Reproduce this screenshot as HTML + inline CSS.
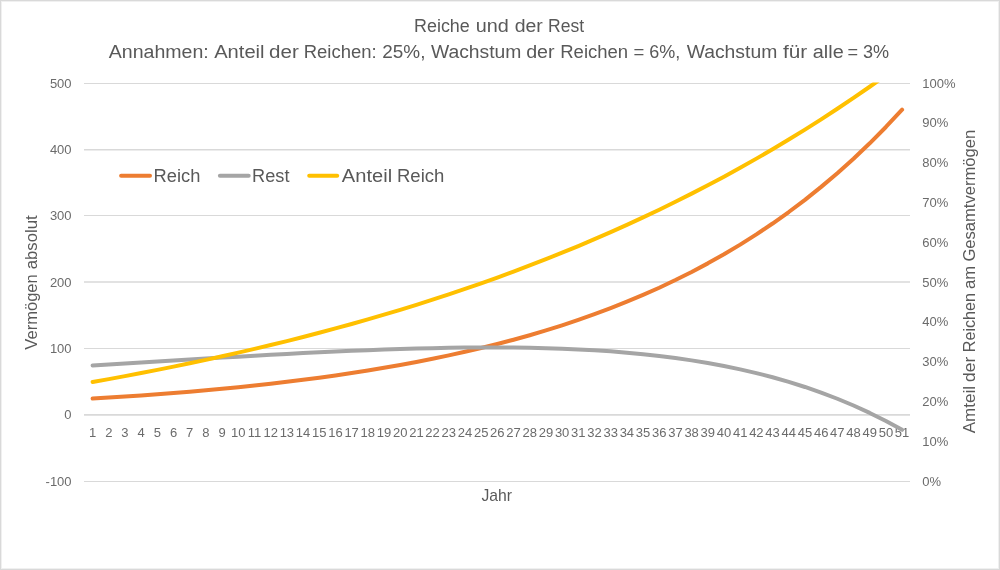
<!DOCTYPE html>
<html><head><meta charset="utf-8"><style>
html,body{margin:0;padding:0;background:#fff;}
body{width:1000px;height:570px;overflow:hidden;}
svg{display:block;will-change:transform;}
text{font-family:"Liberation Sans", sans-serif;fill:#595959;}
.ax text{fill:#6b6b6b;}
</style></head><body>
<svg width="1000" height="570" viewBox="0 0 1000 570">
<rect x="0" y="0" width="1000" height="570" fill="#fff"/>
<rect x="0.5" y="0.5" width="999" height="569" fill="none" stroke="#d9d9d9" stroke-width="1"/>
<rect x="1.5" y="1.5" width="997" height="567" fill="none" stroke="#f0f0f0" stroke-width="1"/>
<defs><clipPath id="pa"><rect x="80.0" y="82.5" width="834.0" height="420"/></clipPath></defs>
<line x1="84.0" y1="83.50" x2="910.0" y2="83.50" stroke="#d9d9d9" stroke-width="1.0"/><line x1="84.0" y1="149.75" x2="910.0" y2="149.75" stroke="#d9d9d9" stroke-width="1.6"/><line x1="84.0" y1="215.50" x2="910.0" y2="215.50" stroke="#d9d9d9" stroke-width="1.0"/><line x1="84.0" y1="281.95" x2="910.0" y2="281.95" stroke="#d9d9d9" stroke-width="1.6"/><line x1="84.0" y1="348.50" x2="910.0" y2="348.50" stroke="#d9d9d9" stroke-width="1.0"/><line x1="84.0" y1="414.95" x2="910.0" y2="414.95" stroke="#d9d9d9" stroke-width="1.8"/><line x1="84.0" y1="481.50" x2="910.0" y2="481.50" stroke="#d9d9d9" stroke-width="1.0"/>
<g font-size="13.0" class="ax"><text x="71.6" y="87.67" text-anchor="end">500</text><text x="71.6" y="154.01" text-anchor="end">400</text><text x="71.6" y="220.34" text-anchor="end">300</text><text x="71.6" y="286.67" text-anchor="end">200</text><text x="71.6" y="353.01" text-anchor="end">100</text><text x="71.6" y="419.34" text-anchor="end">0</text><text x="71.6" y="485.67" text-anchor="end">-100</text><text x="922.3" y="485.67">0%</text><text x="922.3" y="445.87">10%</text><text x="922.3" y="406.07">20%</text><text x="922.3" y="366.27">30%</text><text x="922.3" y="326.47">40%</text><text x="922.3" y="286.67">50%</text><text x="922.3" y="246.87">60%</text><text x="922.3" y="207.07">70%</text><text x="922.3" y="167.27">80%</text><text x="922.3" y="127.47">90%</text><text x="922.3" y="87.67">100%</text><text x="92.60" y="436.7" text-anchor="middle">1</text><text x="108.79" y="436.7" text-anchor="middle">2</text><text x="124.98" y="436.7" text-anchor="middle">3</text><text x="141.17" y="436.7" text-anchor="middle">4</text><text x="157.36" y="436.7" text-anchor="middle">5</text><text x="173.55" y="436.7" text-anchor="middle">6</text><text x="189.74" y="436.7" text-anchor="middle">7</text><text x="205.93" y="436.7" text-anchor="middle">8</text><text x="222.12" y="436.7" text-anchor="middle">9</text><text x="238.31" y="436.7" text-anchor="middle">10</text><text x="254.50" y="436.7" text-anchor="middle">11</text><text x="270.69" y="436.7" text-anchor="middle">12</text><text x="286.88" y="436.7" text-anchor="middle">13</text><text x="303.07" y="436.7" text-anchor="middle">14</text><text x="319.26" y="436.7" text-anchor="middle">15</text><text x="335.45" y="436.7" text-anchor="middle">16</text><text x="351.64" y="436.7" text-anchor="middle">17</text><text x="367.83" y="436.7" text-anchor="middle">18</text><text x="384.02" y="436.7" text-anchor="middle">19</text><text x="400.21" y="436.7" text-anchor="middle">20</text><text x="416.40" y="436.7" text-anchor="middle">21</text><text x="432.59" y="436.7" text-anchor="middle">22</text><text x="448.78" y="436.7" text-anchor="middle">23</text><text x="464.97" y="436.7" text-anchor="middle">24</text><text x="481.16" y="436.7" text-anchor="middle">25</text><text x="497.35" y="436.7" text-anchor="middle">26</text><text x="513.54" y="436.7" text-anchor="middle">27</text><text x="529.73" y="436.7" text-anchor="middle">28</text><text x="545.92" y="436.7" text-anchor="middle">29</text><text x="562.11" y="436.7" text-anchor="middle">30</text><text x="578.30" y="436.7" text-anchor="middle">31</text><text x="594.49" y="436.7" text-anchor="middle">32</text><text x="610.68" y="436.7" text-anchor="middle">33</text><text x="626.87" y="436.7" text-anchor="middle">34</text><text x="643.06" y="436.7" text-anchor="middle">35</text><text x="659.25" y="436.7" text-anchor="middle">36</text><text x="675.44" y="436.7" text-anchor="middle">37</text><text x="691.63" y="436.7" text-anchor="middle">38</text><text x="707.82" y="436.7" text-anchor="middle">39</text><text x="724.01" y="436.7" text-anchor="middle">40</text><text x="740.20" y="436.7" text-anchor="middle">41</text><text x="756.39" y="436.7" text-anchor="middle">42</text><text x="772.58" y="436.7" text-anchor="middle">43</text><text x="788.77" y="436.7" text-anchor="middle">44</text><text x="804.96" y="436.7" text-anchor="middle">45</text><text x="821.15" y="436.7" text-anchor="middle">46</text><text x="837.34" y="436.7" text-anchor="middle">47</text><text x="853.53" y="436.7" text-anchor="middle">48</text><text x="869.72" y="436.7" text-anchor="middle">49</text><text x="885.91" y="436.7" text-anchor="middle">50</text><text x="902.10" y="436.7" text-anchor="middle">51</text></g>
<g clip-path="url(#pa)" fill="none" stroke-width="4.0" stroke-linecap="round" stroke-linejoin="round">
<polyline points="92.60,398.58 108.79,397.59 124.98,396.53 141.17,395.42 157.36,394.23 173.55,392.97 189.74,391.64 205.93,390.23 222.12,388.74 238.31,387.15 254.50,385.47 270.69,383.69 286.88,381.80 303.07,379.80 319.26,377.67 335.45,375.42 351.64,373.04 367.83,370.51 384.02,367.83 400.21,364.99 416.40,361.98 432.59,358.79 448.78,355.41 464.97,351.82 481.16,348.02 497.35,343.99 513.54,339.72 529.73,335.20 545.92,330.40 562.11,325.31 578.30,319.92 594.49,314.21 610.68,308.15 626.87,301.73 643.06,294.92 659.25,287.71 675.44,280.06 691.63,271.95 707.82,263.36 724.01,254.25 740.20,244.60 756.39,234.36 772.58,223.51 788.77,212.01 804.96,199.82 821.15,186.90 837.34,173.21 853.53,158.69 869.72,143.30 885.91,126.99 902.10,109.70" stroke="#ed7d31"/>
<polyline points="92.60,365.42 108.79,364.42 124.98,363.43 141.17,362.43 157.36,361.44 173.55,360.46 189.74,359.48 205.93,358.52 222.12,357.57 238.31,356.63 254.50,355.72 270.69,354.83 286.88,353.96 303.07,353.12 319.26,352.32 335.45,351.56 351.64,350.85 367.83,350.18 384.02,349.57 400.21,349.03 416.40,348.55 432.59,348.14 448.78,347.82 464.97,347.60 481.16,347.47 497.35,347.45 513.54,347.56 529.73,347.79 545.92,348.17 562.11,348.70 578.30,349.40 594.49,350.29 610.68,351.37 626.87,352.67 643.06,354.20 659.25,355.97 675.44,358.02 691.63,360.36 707.82,363.01 724.01,366.00 740.20,369.36 756.39,373.10 772.58,377.26 788.77,381.87 804.96,386.97 821.15,392.58 837.34,398.75 853.53,405.52 869.72,412.93 885.91,421.01 902.10,429.84" stroke="#a5a5a5"/>
<polyline points="92.60,382.00 108.79,379.10 124.98,376.12 141.17,373.05 157.36,369.89 173.55,366.64 189.74,363.30 205.93,359.85 222.12,356.31 238.31,352.66 254.50,348.91 270.69,345.05 286.88,341.07 303.07,336.98 319.26,332.77 335.45,328.44 351.64,323.99 367.83,319.40 384.02,314.68 400.21,309.82 416.40,304.82 432.59,299.67 448.78,294.37 464.97,288.92 481.16,283.32 497.35,277.54 513.54,271.60 529.73,265.49 545.92,259.20 562.11,252.72 578.30,246.06 594.49,239.20 610.68,232.14 626.87,224.88 643.06,217.41 659.25,209.71 675.44,201.80 691.63,193.65 707.82,185.27 724.01,176.64 740.20,167.76 756.39,158.62 772.58,149.22 788.77,139.54 804.96,129.58 821.15,119.33 837.34,108.78 853.53,97.93 869.72,86.75 885.91,75.26 902.10,63.42" stroke="#ffc000"/>
</g>
<text x="414.03" y="31.8" font-size="18.8" textLength="55.77" lengthAdjust="spacingAndGlyphs">Reiche</text>
<text x="475.71" y="31.8" font-size="18.8" textLength="33.06" lengthAdjust="spacingAndGlyphs">und</text>
<text x="514.68" y="31.8" font-size="18.8" textLength="28.14" lengthAdjust="spacingAndGlyphs">der</text>
<text x="548.06" y="31.8" font-size="18.8" textLength="36.07" lengthAdjust="spacingAndGlyphs">Rest</text>
<text x="108.71" y="57.5" font-size="18.8" textLength="100.07" lengthAdjust="spacingAndGlyphs">Annahmen:</text>
<text x="214.16" y="57.5" font-size="18.8" textLength="50.39" lengthAdjust="spacingAndGlyphs">Anteil</text>
<text x="269.14" y="57.5" font-size="18.8" textLength="29.70" lengthAdjust="spacingAndGlyphs">der</text>
<text x="303.68" y="57.5" font-size="18.8" textLength="73.01" lengthAdjust="spacingAndGlyphs">Reichen:</text>
<text x="382.25" y="57.5" font-size="18.8" textLength="43.15" lengthAdjust="spacingAndGlyphs">25%,</text>
<text x="430.92" y="57.5" font-size="18.8" textLength="90.55" lengthAdjust="spacingAndGlyphs">Wachstum</text>
<text x="526.17" y="57.5" font-size="18.8" textLength="28.45" lengthAdjust="spacingAndGlyphs">der</text>
<text x="560.23" y="57.5" font-size="18.8" textLength="67.97" lengthAdjust="spacingAndGlyphs">Reichen</text>
<text x="633.60" y="57.5" font-size="18.8" textLength="10.82" lengthAdjust="spacingAndGlyphs">=</text>
<text x="649.29" y="57.5" font-size="18.8" textLength="31.03" lengthAdjust="spacingAndGlyphs">6%,</text>
<text x="686.67" y="57.5" font-size="18.8" textLength="90.60" lengthAdjust="spacingAndGlyphs">Wachstum</text>
<text x="782.91" y="57.5" font-size="18.8" textLength="24.14" lengthAdjust="spacingAndGlyphs">für</text>
<text x="812.81" y="57.5" font-size="18.8" textLength="30.87" lengthAdjust="spacingAndGlyphs">alle</text>
<text x="847.42" y="57.5" font-size="18.8" textLength="10.58" lengthAdjust="spacingAndGlyphs">=</text>
<text x="863.01" y="57.5" font-size="18.8" textLength="26.13" lengthAdjust="spacingAndGlyphs">3%</text>
<g stroke-width="4.0" stroke-linecap="round">
<line x1="121.1" y1="175.8" x2="150" y2="175.8" stroke="#ed7d31"/>
<line x1="219.9" y1="175.8" x2="248.7" y2="175.8" stroke="#a5a5a5"/>
<line x1="309.2" y1="175.8" x2="337.2" y2="175.8" stroke="#ffc000"/>
</g>
<text x="153.60" y="181.8" font-size="19.2" textLength="46.79" lengthAdjust="spacingAndGlyphs">Reich</text>
<text x="252.11" y="181.8" font-size="19.2" textLength="37.32" lengthAdjust="spacingAndGlyphs">Rest</text>
<text x="341.86" y="181.8" font-size="19.2" textLength="50.28" lengthAdjust="spacingAndGlyphs">Anteil</text>
<text x="396.98" y="181.8" font-size="19.2" textLength="47.32" lengthAdjust="spacingAndGlyphs">Reich</text>
<text x="481.45" y="501" font-size="16.6" textLength="30.51" lengthAdjust="spacingAndGlyphs">Jahr</text>
<text transform="translate(36.9,0) rotate(-90)" x="-349.67" y="0" font-size="16.3" textLength="75.43" lengthAdjust="spacingAndGlyphs">Vermögen</text>
<text transform="translate(36.9,0) rotate(-90)" x="-269.31" y="0" font-size="16.3" textLength="54.03" lengthAdjust="spacingAndGlyphs">absolut</text>
<text transform="translate(975.2,0) rotate(-90)" x="-433.33" y="0" font-size="16.8" textLength="47.37" lengthAdjust="spacingAndGlyphs">Amteil</text>
<text transform="translate(975.2,0) rotate(-90)" x="-381.93" y="0" font-size="16.8" textLength="25.12" lengthAdjust="spacingAndGlyphs">der</text>
<text transform="translate(975.2,0) rotate(-90)" x="-352.23" y="0" font-size="16.8" textLength="59.27" lengthAdjust="spacingAndGlyphs">Reichen</text>
<text transform="translate(975.2,0) rotate(-90)" x="-289.11" y="0" font-size="16.8" textLength="23.21" lengthAdjust="spacingAndGlyphs">am</text>
<text transform="translate(975.2,0) rotate(-90)" x="-261.53" y="0" font-size="16.8" textLength="131.61" lengthAdjust="spacingAndGlyphs">Gesamtvermögen</text>
</svg>
</body></html>
